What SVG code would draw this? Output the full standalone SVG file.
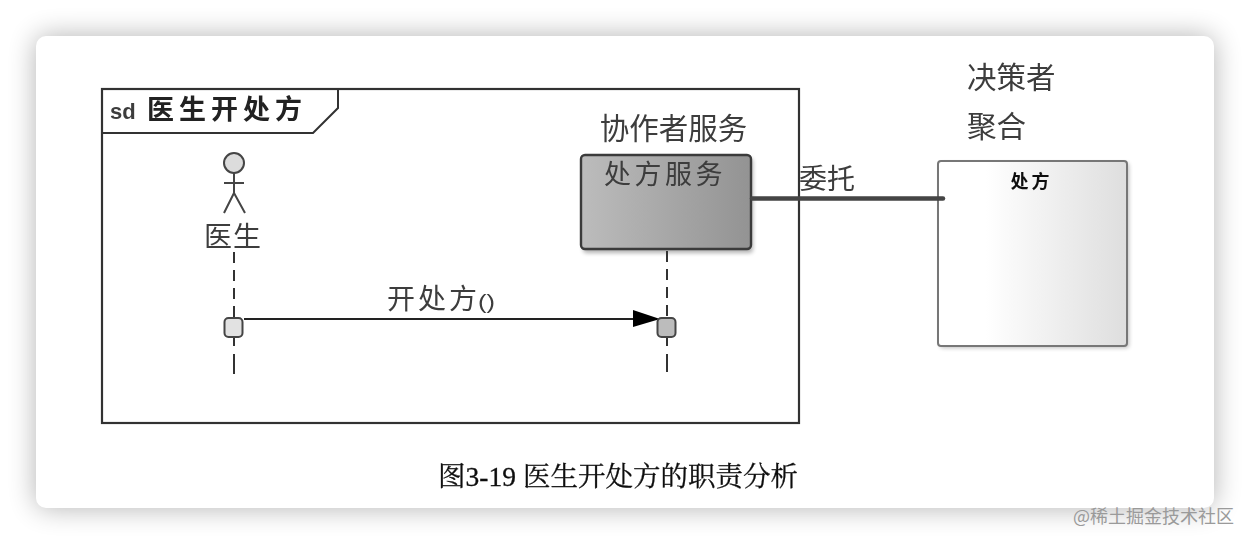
<svg xmlns="http://www.w3.org/2000/svg" width="1250" height="544" viewBox="0 0 1250 544">
<style>
text{font-family:"Noto Sans CJK SC","Liberation Sans",sans-serif;fill:#3c3c3c}
.ll{fill:none;stroke:#333;stroke-width:2;stroke-dasharray:11 7}
</style>
<defs>
<filter id="card" x="-10%" y="-15%" width="120%" height="130%"><feGaussianBlur stdDeviation="14"/></filter>
<filter id="soft" x="-10%" y="-10%" width="120%" height="120%"><feGaussianBlur stdDeviation="2"/></filter>
<filter id="photo" filterUnits="userSpaceOnUse" x="0" y="0" width="1250" height="544"><feGaussianBlur stdDeviation="0.55"/></filter>
<linearGradient id="gs"><stop offset="0" stop-color="#bcbcbc"/><stop offset="1" stop-color="#939393"/></linearGradient>
<linearGradient id="gw"><stop offset="0.25" stop-color="#fff"/><stop offset="1" stop-color="#dedede"/></linearGradient>
</defs>
<rect width="1250" height="544" fill="#fff"/>
<rect x="36" y="36" width="1178" height="472" rx="10" fill="#000" opacity="0.3" filter="url(#card)"/>
<rect x="36" y="36" width="1178" height="472" rx="10" fill="#fff"/>
<text x="1073" y="523" font-size="18" style="fill:#9a9a9a">@稀土掘金技术社区</text>

<g filter="url(#photo)">
<g id="frame">
<rect x="102" y="89" width="697" height="334" fill="#fff" stroke="#333" stroke-width="2.2"/>
<path d="M102 133H313L338 108V89" fill="none" stroke="#333" stroke-width="2"/>
<text x="110" y="119" font-size="22" font-weight="700" style="font-family:'Liberation Sans',sans-serif">sd</text>
<text x="147" y="119" font-size="27" font-weight="700" letter-spacing="5" style="fill:#222">医生开处方</text>
</g>

<g id="actor">
<circle cx="234" cy="163" r="10" fill="#dcdcdc" stroke="#444" stroke-width="2"/>
<path d="M234 173V193M224 183H244M234 193L224 213M234 193L245 213" fill="none" stroke="#444" stroke-width="2"/>
<text x="233" y="247" font-size="28" text-anchor="middle" letter-spacing="1">医生</text>
</g>

<g id="service">
<text x="673.500" y="139" font-size="29.500" text-anchor="middle">协作者服务</text>
<rect x="583" y="158" width="170" height="95" rx="4" fill="#000" opacity="0.3" filter="url(#soft)"/>
<rect x="581" y="155" width="170" height="94" rx="4" fill="url(#gs)" stroke="#3a3a3a" stroke-width="2.400"/>
<text x="665" y="184" font-size="27" text-anchor="middle" letter-spacing="3.500">处方服务</text>
</g>

<g id="aggregate">
<text x="967" y="88" font-size="29.500">决策者</text>
<text x="967" y="137" font-size="29.500">聚合</text>
<rect x="940" y="163" width="189" height="185" rx="3" fill="#000" opacity="0.25" filter="url(#soft)"/>
<rect x="938" y="161" width="189" height="185" rx="3" fill="url(#gw)" stroke="#777" stroke-width="2"/>
<text x="1031.500" y="188" font-size="18" font-weight="700" text-anchor="middle" letter-spacing="3" style="fill:#111">处方</text>
</g>

<g id="connectors">
<path class="ll" d="M234 252V317"/>
<path class="ll" d="M234 338V346M234 354V374" style="stroke-dasharray:none"/>
<path class="ll" d="M667 251V317"/>
<path class="ll" d="M667 338V346M667 354V372" style="stroke-dasharray:none"/>
<path d="M244 319H636" stroke="#222" stroke-width="2" fill="none"/>
<path d="M633 310L660 319L633 327Z" fill="#000"/>
<path d="M752 198.500H943" stroke="#444" stroke-width="4.500" stroke-linecap="round"/>
<text x="827" y="189" font-size="28" text-anchor="middle">委托</text>
<text x="387" y="309" font-size="28" letter-spacing="3">开处方</text>
<text x="478" y="309" font-size="21" style="font-family:'Liberation Sans',sans-serif" textLength="17" lengthAdjust="spacingAndGlyphs">()</text>
</g>

<g id="activations">
<rect x="224.500" y="318" width="18" height="19" rx="4" fill="#e2e2e2" stroke="#444" stroke-width="2"/>
<rect x="657.500" y="318" width="18" height="19" rx="4" fill="#bcbcbc" stroke="#444" stroke-width="2"/>
</g>

<text x="618" y="486" font-size="27.500" text-anchor="middle" stroke="#111" stroke-width="0.300" style="font-family:'Liberation Serif','Noto Serif CJK SC','Noto Sans CJK SC',serif;fill:#111">图3-19 医生开处方的职责分析</text>
</g>
</svg>
